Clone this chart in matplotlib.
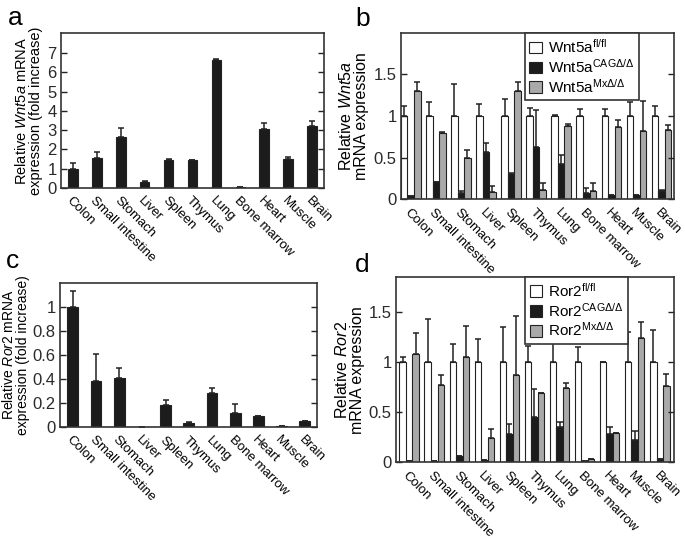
import numpy
import matplotlib
matplotlib.use('Agg')
import matplotlib.pyplot as plt
from matplotlib.ticker import FuncFormatter
from matplotlib.patches import Patch

plt.rcParams['font.family'] = ['Liberation Sans', 'DejaVu Sans']
plt.rcParams['mathtext.fontset'] = 'custom'
plt.rcParams['mathtext.rm'] = 'Liberation Sans'
plt.rcParams['mathtext.it'] = 'Liberation Sans:italic'

tissues = ['Colon', 'Small intestine', 'Stomach', 'Liver', 'Spleen', 'Thymus',
           'Lung', 'Bone marrow', 'Heart', 'Muscle', 'Brain']

# panel a: Wnt5a across tissues
wnt5a_mean = [1.0, 1.55, 2.67, 0.32, 1.43, 1.43, 6.67, 0.03, 3.05, 1.52, 3.23]
wnt5a_err = [0.27, 0.33, 0.45, 0.03, 0.05, 0.04, 0.03, 0.0, 0.3, 0.1, 0.25]

# panel b: Wnt5a in knockouts
wnt5a_fl = [1.0] * 11
wnt5a_fl_err = [0.12, 0.17, 0.38, 0.14, 0.2, 0.09, 0.01, 0.08, 0.08, 0.17, 0.12]
wnt5a_cag = [0.045, 0.21, 0.07, 0.57, 0.3, 0.63, 0.42, 0.08, 0.05, 0.05, 0.1]
wnt5a_cag_err = [0.0, 0.0, 0.03, 0.1, 0.02, 0.44, 0.11, 0.05, 0.0, 0.0, 0.01]
wnt5a_mx = [1.3, 0.79, 0.49, 0.09, 1.3, 0.11, 0.88, 0.1, 0.87, 0.82, 0.83]
wnt5a_mx_err = [0.11, 0.02, 0.1, 0.075, 0.11, 0.08, 0.02, 0.1, 0.08, 0.36, 0.06]

# panel c: Ror2 across tissues
ror2_mean = [1.0, 0.385, 0.41, 0.005, 0.185, 0.038, 0.28, 0.12, 0.09, 0.008, 0.05]
ror2_err = [0.13, 0.22, 0.08, 0.0, 0.04, 0.005, 0.045, 0.07, 0.0, 0.0, 0.005]

# panel d: Ror2 in knockouts
ror2_fl = [1.0] * 11
ror2_fl_err = [0.05, 0.43, 0.18, 0.23, 0.35, 0.16, 0.2, 0.15, 0.005, 0.3, 0.32]
ror2_cag = [0.01, 0.01, 0.06, 0.02, 0.28, 0.45, 0.35, 0.01, 0.28, 0.22, 0.03]
ror2_cag_err = [0.0, 0.0, 0.0, 0.0, 0.1, 0.28, 0.05, 0.0, 0.07, 0.09, 0.0]
ror2_mx = [1.08, 0.77, 1.05, 0.24, 0.87, 0.69, 0.74, 0.035, 0.29, 1.24, 0.76]
ror2_mx_err = [0.21, 0.1, 0.31, 0.09, 0.59, 0.005, 0.05, 0.0, 0.005, 0.16, 0.12]

EDGE = '#222222'
GRAY = '#a9a9a9'
BLACK = '#1c1c1c'


def fmt_g(v, pos):
    return '%g' % v


def style_axes(ax, ylim, yticks, xlim):
    ax.set_xlim(*xlim)
    ax.set_ylim(*ylim)
    ax.set_yticks(yticks)
    ax.yaxis.set_major_formatter(FuncFormatter(fmt_g))
    ax.set_xticks(range(len(tissues)))
    ax.set_xticklabels(tissues, rotation=-45, ha='left', va='top',
                       rotation_mode='anchor', fontsize=9.5)
    ax.tick_params(axis='x', length=0, pad=5)
    ax.tick_params(axis='y', direction='in', length=4, width=1, right=True,
                   labelsize=12, pad=3, colors=EDGE)
    ax.tick_params(axis='y', labelcolor='#2a2a2a')
    for s in ax.spines.values():
        s.set_linewidth(1.2)
        s.set_color('#333333')


def single_plot(ax, means, errs, width):
    x = numpy.arange(len(tissues))
    ax.bar(x, means, width=width, color=BLACK, edgecolor=EDGE, linewidth=0.8)
    ax.errorbar(x, means, yerr=[numpy.zeros(len(errs)), errs], fmt='none',
                ecolor=EDGE, elinewidth=1.1, capsize=2, capthick=1.1)


def group_plot(ax, series, errs, width):
    x = numpy.arange(len(tissues))
    colors = ['white', BLACK, GRAY]
    for k in range(3):
        xs = x + (k - 1) * width
        ax.bar(xs, series[k], width=width, color=colors[k], edgecolor=EDGE, linewidth=0.8)
        ax.errorbar(xs, series[k], yerr=[numpy.zeros(11), errs[k]], fmt='none',
                    ecolor=EDGE, elinewidth=1.1, capsize=2, capthick=1.1)


def add_legend(ax, gene, x0):
    colors = ['white', BLACK, GRAY]
    labels = [gene + r'$^{\mathrm{fl/fl}}$', gene + r'$^{\mathrm{CAG\Delta/\Delta}}$',
              gene + r'$^{\mathrm{Mx\Delta/\Delta}}$']
    handles = [Patch(facecolor=c, edgecolor=EDGE, linewidth=0.8) for c in colors]
    leg = ax.legend(handles, labels, loc='upper left', bbox_to_anchor=(x0, 1.0),
                    borderaxespad=0, fancybox=False, framealpha=1, fontsize=11,
                    handlelength=0.8, handleheight=0.8, handletextpad=0.4,
                    labelspacing=0.12, borderpad=0.3)
    leg.get_frame().set_edgecolor('#333333')
    leg.get_frame().set_linewidth(1.2)


fig = plt.figure(figsize=(6.85, 5.4), dpi=100)

ax_a = fig.add_axes([0.089, 0.652, 0.384, 0.287])
single_plot(ax_a, wnt5a_mean, wnt5a_err, 0.4)
style_axes(ax_a, (0, 8.05), range(0, 8), (-0.5, 10.5))
ax_a.set_ylabel('Relative $\\it{Wnt5a}$ mRNA\nexpression (fold increase)', fontsize=10.5,
                labelpad=3, linespacing=1.0)

ax_b = fig.add_axes([0.585, 0.631, 0.399, 0.307])
group_plot(ax_b, [wnt5a_fl, wnt5a_cag, wnt5a_mx],
           [wnt5a_fl_err, wnt5a_cag_err, wnt5a_mx_err], 0.26)
style_axes(ax_b, (0, 1.99), [0, 0.5, 1, 1.5], (-0.4, 10.5))
ax_b.set_ylabel('Relative $\\it{Wnt5a}$\nmRNA expression', fontsize=11.5,
                labelpad=3, linespacing=1.0)
add_legend(ax_b, 'Wnt5a', 0.454)

ax_c = fig.add_axes([0.0876, 0.209, 0.375, 0.267])
single_plot(ax_c, ror2_mean, ror2_err, 0.47)
style_axes(ax_c, (0, 1.2), [0, 0.2, 0.4, 0.6, 0.8, 1.0], (-0.55, 10.52))
ax_c.set_ylabel('Relative $\\it{Ror2}$ mRNA\nexpression (fold increase)', fontsize=10,
                labelpad=2, linespacing=1.0)

ax_d = fig.add_axes([0.578, 0.144, 0.406, 0.343])
group_plot(ax_d, [ror2_fl, ror2_cag, ror2_mx],
           [ror2_fl_err, ror2_cag_err, ror2_mx_err], 0.26)
style_axes(ax_d, (0, 1.85), [0, 0.5, 1, 1.5], (-0.53, 10.57))
ax_d.set_ylabel('Relative $\\it{Ror2}$\nmRNA expression', fontsize=11.5,
                labelpad=3, linespacing=1.0)
add_legend(ax_d, 'Ror2', 0.464)

for lab, (px, py) in zip('abcd', [(8, 25), (355, 26), (6, 268), (355, 272)]):
    fig.text(px / 685, 1 - py / 540, lab, fontsize=19, va='baseline')

plt.savefig('out.png', dpi=100)
